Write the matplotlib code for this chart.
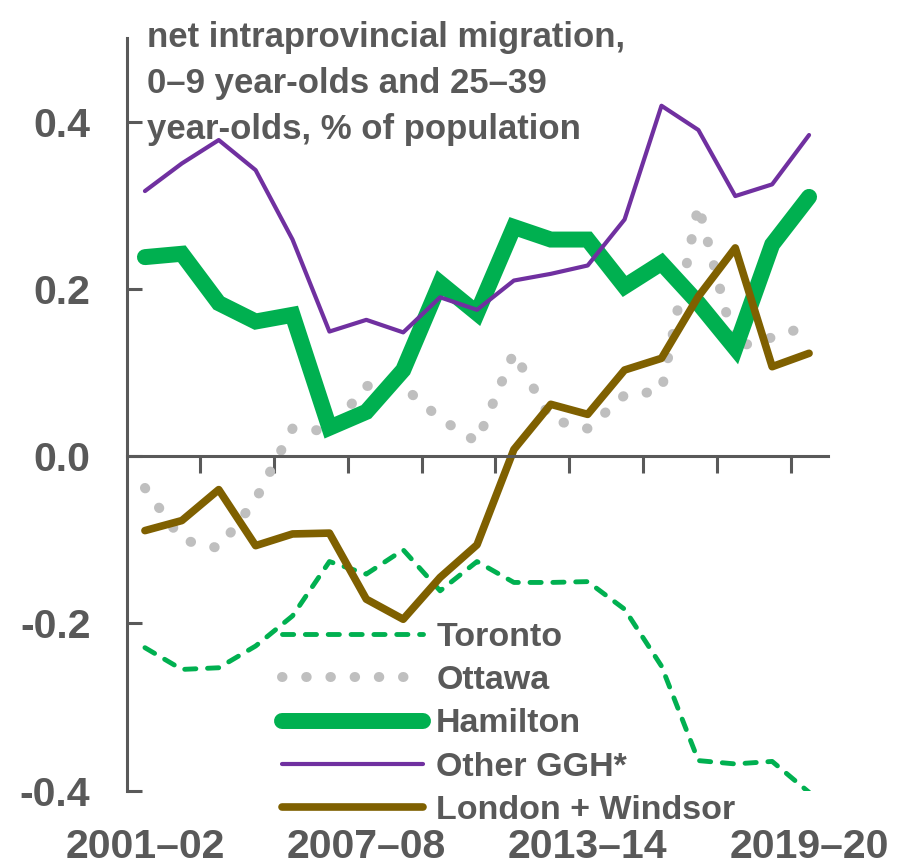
import matplotlib
matplotlib.use('Agg')
import matplotlib.pyplot as plt
import numpy as np

plt.rcParams['font.family'] = ['Liberation Sans', 'DejaVu Sans']
plt.rcParams['font.weight'] = 'bold'

GRAY = '#595959'

# data (share of population)
years = ['2001–02', '2002–03', '2003–04', '2004–05', '2005–06', '2006–07',
         '2007–08', '2008–09', '2009–10', '2010–11', '2011–12', '2012–13',
         '2013–14', '2014–15', '2015–16', '2016–17', '2017–18', '2018–19',
         '2019–20']
toronto = [-0.229, -0.255, -0.253, -0.227, -0.191, -0.126, -0.141, -0.112,
           -0.161, -0.126, -0.151, -0.151, -0.150, -0.183, -0.251, -0.364,
           -0.368, -0.365, -0.402]
ottawa = [-0.038, -0.100, -0.110, -0.052, 0.033, 0.030, 0.084, 0.083, 0.045,
          0.017, 0.124, 0.044, 0.033, 0.073, 0.078, 0.300, 0.130, 0.142, 0.156]
hamilton = [0.238, 0.242, 0.183, 0.161, 0.169, 0.034, 0.053, 0.103, 0.207,
            0.171, 0.274, 0.259, 0.259, 0.203, 0.231, 0.183, 0.129, 0.253, 0.310]
other_ggh = [0.317, 0.350, 0.378, 0.342, 0.259, 0.149, 0.163, 0.148, 0.190,
             0.175, 0.210, 0.218, 0.228, 0.283, 0.419, 0.390, 0.311, 0.325, 0.384]
london_windsor = [-0.089, -0.077, -0.040, -0.107, -0.093, -0.092, -0.171,
                  -0.195, -0.145, -0.106, 0.008, 0.062, 0.050, 0.103, 0.117,
                  0.191, 0.249, 0.107, 0.123]
label_idx = [0, 6, 12, 18]
yticks = [-0.4, -0.2, 0.0, 0.2, 0.4]
ytick_labels = ['-0.4', '-0.2', '0.0', '0.2', '0.4']

fig = plt.figure(figsize=(9.05, 8.66), dpi=100)
ax = fig.add_axes([126.5/905, 1-790.7/866, 701/905, (790.7-38)/866])

x = np.arange(len(years))
ax.plot(x, toronto, color='#00B050', lw=3.5, dashes=(2.3, 2.4),
        dash_capstyle='round', label='Toronto')
ax.plot(x, ottawa, color='#BFBFBF', lw=7.2, dashes=(0.05, 2.37),
        dash_capstyle='round', label='Ottawa')
ax.plot(x, hamilton, color='#00B050', lw=11.5, solid_capstyle='round',
        solid_joinstyle='miter', label='Hamilton')
ax.plot(x, other_ggh, color='#7030A0', lw=3, solid_capstyle='round',
        label='Other GGH*')
ax.plot(x, london_windsor, color='#7F6000', lw=5.5, solid_capstyle='round',
        label='London + Windsor')

ax.set_xlim(-0.5, len(years) - 0.5)
ax.set_ylim(-0.4, 0.5)

for s in ['top', 'right']:
    ax.spines[s].set_visible(False)
ax.spines['left'].set_color(GRAY)
ax.spines['left'].set_linewidth(2.2)
ax.spines['bottom'].set_position(('data', 0))
ax.spines['bottom'].set_color(GRAY)
ax.spines['bottom'].set_linewidth(2.2)

ax.set_yticks(yticks, ytick_labels)
ax.tick_params(axis='y', direction='in', length=11, width=2.2, color=GRAY,
               labelsize=29.5, labelcolor=GRAY, pad=26)
ax.set_xticks(np.arange(1.5, len(years) - 1, 2), [''] * 9)
ax.tick_params(axis='x', direction='out', length=12, width=2.2, color=GRAY)

sec = ax.secondary_xaxis(0.0)
sec.set_xticks(label_idx, [years[i] for i in label_idx])
sec.tick_params(length=0, labelsize=29.5, labelcolor=GRAY, pad=27)
for s in sec.spines.values():
    s.set_visible(False)

fig.text(147/905, 1-21/866,
         'net intraprovincial migration,\n0–9 year-olds and 25–39\nyear-olds, % of population',
         ha='left', va='top', fontsize=25, color=GRAY, linespacing=1.5)

ax.legend(loc='upper left', bbox_to_anchor=(282/905, 1-622/866),
          bbox_transform=fig.transFigure, borderpad=0, borderaxespad=0,
          handlelength=4.15, handletextpad=0.38, labelspacing=0.36,
          frameon=False, fontsize=24.5, labelcolor=GRAY)

fig.savefig('out.png', dpi=100)
